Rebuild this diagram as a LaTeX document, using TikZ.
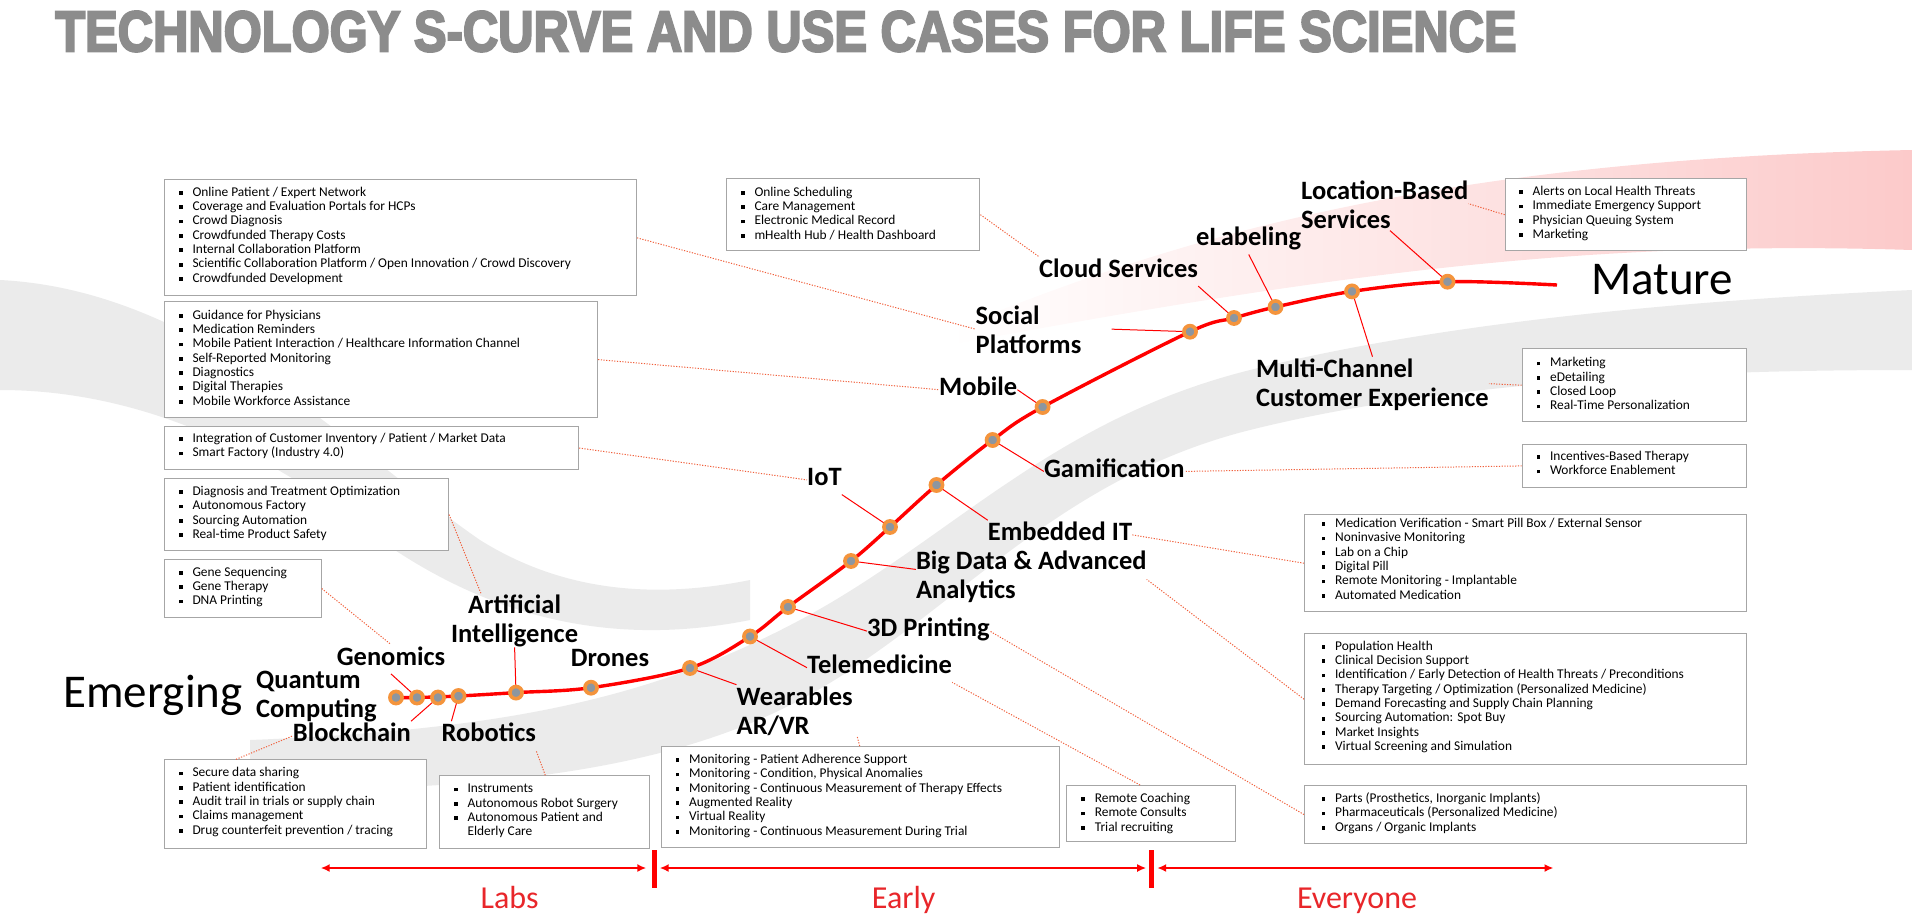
\documentclass[tikz,border=0pt]{standalone}
\usepackage{fontspec}
\setmainfont{Carlito}
\newfontfamily\titlefont{Liberation Sans}[BoldFeatures={FakeBold=4}]
\usetikzlibrary{arrows.meta,calc}
\definecolor{titlegray}{HTML}{8C8C8C}
\definecolor{boxgray}{HTML}{A6A6A6}
\definecolor{dotred}{HTML}{F0603C}
\definecolor{ptorange}{HTML}{F4943C}
\definecolor{ptcenter}{HTML}{8C96A0}
\definecolor{labred}{HTML}{E8262A}
\definecolor{bandgray}{HTML}{EBEBEB}
\definecolor{bandpink}{HTML}{FCCACA}
\newcommand{\bi}{\strut\makebox[13.6pt][l]{\rule[1.3pt]{3.8pt}{3.8pt}}}
\newcommand{\bskip}{\strut\hspace*{13.6pt}}
\begin{document}
\begin{tikzpicture}[x=1pt,y=-1pt,
  box/.style={draw=boxgray, line width=1.1pt, fill=white, inner sep=0, anchor=north west},
  list/.style={anchor=north west, inner sep=0, align=left, font=\fontsize{13.4}{14.35}\selectfont},
  lbl/.style={anchor=north west, inner sep=0, align=left, font=\bfseries\fontsize{26.5}{29}\selectfont},
  stage/.style={inner sep=0, anchor=north west, font=\fontsize{47}{50}\selectfont},
  pt/.style={circle, draw=ptorange, fill=ptcenter, line width=3.6pt, minimum size=12.2pt, inner sep=0},
  curve/.style={draw=red, line width=3.4pt},
  lead/.style={draw=red, line width=1pt},
  dotline/.style={draw=dotred, line width=1pt, dash pattern=on 1.2pt off 1.5pt},
  span/.style={draw=red, line width=2.4pt, {Latex[length=9pt,width=8pt]}-{Latex[length=9pt,width=8pt]}},
  phase/.style={text=labred, inner sep=0, anchor=base, font=\fontsize{32}{36}\selectfont}
]
\useasboundingbox (0,0) rectangle (1912,914);

% ---------- background swooshes ----------
\fill[bandgray] (0,280) .. controls (200,290) and (350,450) .. (480,540)
  .. controls (560,590) and (650,600) .. (750,580) -- (750,620)
  .. controls (600,650) and (480,610) .. (380,540)
  .. controls (280,460) and (150,390) .. (0,390) -- cycle;
\fill[bandgray] (250,740) .. controls (500,730) and (650,700) .. (800,620)
  .. controls (950,540) and (1050,420) .. (1250,370)
  .. controls (1450,320) and (1700,300) .. (1912,290) -- (1912,370)
  .. controls (1700,370) and (1450,380) .. (1250,430)
  .. controls (1050,480) and (950,620) .. (800,700)
  .. controls (650,780) and (450,790) .. (250,790) -- cycle;
\shade[left color=white, right color=bandpink] (950,330) .. controls (1150,250) and (1400,160) .. (1912,150)
  -- (1912,250) .. controls (1600,240) and (1350,270) .. (950,345) -- cycle;

% ---------- title ----------
\node[inner sep=0, anchor=north west, text=titlegray] (title) at (55,11)
  {\resizebox{1461pt}{40pt}{\titlefont\bfseries TECHNOLOGY S-CURVE AND USE CASES FOR LIFE SCIENCE}};

% ---------- points on the S-curve ----------
\coordinate (cstart) at (392,697.5);
\coordinate (cend) at (1557,285);
\coordinate (c1) at (396,697.5);
\coordinate (c2) at (417,697.5);
\coordinate (c3) at (438,697.5);
\coordinate (c4) at (458.5,696);
\coordinate (c5) at (516,692.6);
\coordinate (c6) at (591,687.7);
\coordinate (c7) at (690,668);
\coordinate (c8) at (750,636.5);
\coordinate (c9) at (788,607);
\coordinate (c10) at (851,561);
\coordinate (c11) at (890,527);
\coordinate (c12) at (936.5,485);
\coordinate (c13) at (992.6,440);
\coordinate (c14) at (1042.6,407);
\coordinate (c15) at (1190,331.7);
\coordinate (c16) at (1234,318);
\coordinate (c17) at (1275.5,307);
\coordinate (c18) at (1352,291.4);
\coordinate (c19) at (1447.5,281.7);

\draw[curve] plot[smooth, tension=0.55] coordinates {(cstart) (c2) (c4) (c5) (c6) (c7) (c8) (c9) (c10) (c11) (c12) (c13) (c14) (c15) (c16) (c17) (c18) (c19) (cend)};

% ---------- curve labels ----------
\node[stage] (emerging) at (63,675) {Emerging};
\node[stage] (mature) at (1591,264) {Mature};

\node[lbl] (lLoc) at (1301,178.7) {\strut Location-Based\\Services};
\node[lbl] (lEL) at (1196,225) {\strut eLabeling};
\node[lbl] (lCloud) at (1039,256.7) {\strut Cloud Services};
\node[lbl] (lSoc) at (975.5,304.2) {\strut Social\\Platforms};
\node[lbl] (lMob) at (939,375) {\strut Mobile};
\node[lbl] (lMC) at (1256,356.7) {\strut Multi-Channel\\Customer Experience};
\node[lbl] (lGam) at (1043.8,456.7) {\strut Gamification};
\node[lbl] (lIoT) at (807,465.2) {\strut IoT};
\node[lbl] (lEmb) at (987.7,520.2) {\strut Embedded IT};
\node[lbl] (lBD) at (915.8,549.4) {\strut Big Data \& Advanced\\Analytics};
\node[lbl] (lPrint) at (867,616.4) {\strut 3D Printing};
\node[lbl] (lTele) at (807,653) {\strut Telemedicine};
\node[lbl] (lWear) at (736.5,684.7) {\strut Wearables\\AR/VR};
\node[lbl] (lDrone) at (570.7,645.7) {\strut Drones};
\node[lbl, anchor=north, align=center] (lAI) at (514.6,593.2) {\strut Artificial\\Intelligence};
\node[lbl] (lGen) at (336.6,644.5) {\strut Genomics};
\node[lbl] (lQC) at (256,667.7) {\strut Quantum\\Computing};
\node[lbl] (lBlock) at (292.7,721.2) {\strut Blockchain};
\node[lbl] (lRob) at (441.4,721.2) {\strut Robotics};

% leaders from labels to their points
\draw[lead] ($(lLoc.south west)+(89,2)$) -- (c19);
\draw[lead] (lEL.south) -- (c17);
\draw[lead] (lCloud.south east) -- (c16);
\draw[lead] ($(lSoc.east)+(30,0)$) -- (c15);
\draw[lead] (lMC.north) -- (c18);
\draw[lead] (lMob.east) -- (c14);
\draw[lead] (lGam.west) -- (c13);
\draw[lead] (lIoT.south east) -- (c11);
\draw[lead] (lEmb.north west) -- (c12);
\draw[lead] ($(lBD.north west)+(0,20)$) -- (c10);
\draw[lead] (lPrint.west) -- (c9);
\draw[lead] (lTele.west) -- (c8);
\draw[lead] (lWear.north west) -- (c7);
\draw[lead] (lAI.south) -- (c5);
\draw[lead] (lGen.south) -- (c2);
\draw[lead] (lBlock.north east) -- (c3);
\draw[lead] ($(lRob.north west)+(10,0)$) -- (c4);

% ---------- use-case boxes ----------
\node[box, minimum width=472pt, minimum height=116pt] (bA) at (164,179.3) {};
\node[box, minimum width=433pt, minimum height=116pt] (bB) at (164,301) {};
\node[box, minimum width=414pt, minimum height=43.5pt] (bC) at (164,425.7) {};
\node[box, minimum width=284pt, minimum height=72pt] (bD) at (164,478) {};
\node[box, minimum width=156.7pt, minimum height=58pt] (bE) at (164,559) {};
\node[box, minimum width=261.7pt, minimum height=88.4pt] (bF) at (164,759.3) {};
\node[box, minimum width=209.4pt, minimum height=72.4pt] (bG) at (439.3,775.3) {};
\node[box, minimum width=398.6pt, minimum height=101.3pt] (bH) at (660.7,746) {};
\node[box, minimum width=168.7pt, minimum height=56pt] (bI) at (1066,785) {};
\node[box, minimum width=253.6pt, minimum height=71.7pt] (bJ) at (725.7,178.3) {};
\node[box, minimum width=241pt, minimum height=71.7pt] (bK) at (1504.7,178.3) {};
\node[box, minimum width=224pt, minimum height=72.7pt] (bL) at (1521.7,348.3) {};
\node[box, minimum width=224pt, minimum height=43.3pt] (bM) at (1521.7,443.7) {};
\node[box, minimum width=441.7pt, minimum height=96.7pt] (bN) at (1304,514.3) {};
\node[box, minimum width=441.7pt, minimum height=130.7pt] (bO) at (1304,633.3) {};
\node[box, minimum width=441.7pt, minimum height=58pt] (bP) at (1304,785) {};

\node[list] (tA) at (178.7,185.8) {\bi Online Patient / Expert Network\\\bi Coverage and Evaluation Portals for HCPs\\\bi Crowd Diagnosis\\\bi Crowdfunded Therapy Costs\\\bi Internal Collaboration Platform\\\bi Scientific Collaboration Platform / Open Innovation / Crowd Discovery\\\bi Crowdfunded Development};
\node[list] (tB) at (178.7,308.8) {\bi Guidance for Physicians\\\bi Medication Reminders\\\bi Mobile Patient Interaction / Healthcare Information Channel\\\bi Self-Reported Monitoring\\\bi Diagnostics\\\bi Digital Therapies\\\bi Mobile Workforce Assistance};
\node[list] (tC) at (178.7,432.1) {\bi Integration of Customer Inventory / Patient / Market Data\\\bi Smart Factory (Industry 4.0)};
\node[list] (tD) at (178.7,485.1) {\bi Diagnosis and Treatment Optimization\\\bi Autonomous Factory\\\bi Sourcing Automation\\\bi Real-time Product Safety};
\node[list] (tE) at (178.7,565.8) {\bi Gene Sequencing\\\bi Gene Therapy\\\bi DNA Printing};
\node[list] (tF) at (178.7,766.4) {\bi Secure data sharing\\\bi Patient identification\\\bi Audit trail in trials or supply chain\\\bi Claims management\\\bi Drug counterfeit prevention / tracing};
\node[list] (tG) at (453.7,782.4) {\bi Instruments\\\bi Autonomous Robot Surgery\\\bi Autonomous Patient and\\\bskip Elderly Care};
\node[list] (tH) at (675.3,753.1) {\bi Monitoring - Patient Adherence Support\\\bi Monitoring - Condition, Physical Anomalies\\\bi Monitoring - Continuous Measurement of Therapy Effects\\\bi Augmented Reality\\\bi Virtual Reality\\\bi Monitoring - Continuous Measurement During Trial};
\node[list] (tI) at (1081,792.1) {\bi Remote Coaching\\\bi Remote Consults\\\bi Trial recruiting};
\node[list] (tJ) at (740.7,185.8) {\bi Online Scheduling\\\bi Care Management\\\bi Electronic Medical Record\\\bi mHealth Hub / Health Dashboard};
\node[list] (tK) at (1518.8,185.1) {\bi Alerts on Local Health Threats\\\bi Immediate Emergency Support\\\bi Physician Queuing System\\\bi Marketing};
\node[list] (tL) at (1536.3,356.4) {\bi Marketing\\\bi eDetailing\\\bi Closed Loop\\\bi Real-Time Personalization};
\node[list] (tM) at (1536.3,450.1) {\bi Incentives-Based Therapy\\\bi Workforce Enablement};
\node[list] (tN) at (1321.3,517.1) {\bi Medication Verification - Smart Pill Box / External Sensor\\\bi Noninvasive Monitoring\\\bi Lab on a Chip\\\bi Digital Pill\\\bi Remote Monitoring - Implantable\\\bi Automated Medication};
\node[list] (tO) at (1321.3,639.8) {\bi Population Health\\\bi Clinical Decision Support\\\bi Identification / Early Detection of Health Threats / Preconditions\\\bi Therapy Targeting / Optimization (Personalized Medicine)\\\bi Demand Forecasting and Supply Chain Planning\\\bi Sourcing Automation: Spot Buy\\\bi Market Insights\\\bi Virtual Screening and Simulation};
\node[list] (tP) at (1321.3,792.1) {\bi Parts (Prosthetics, Inorganic Implants)\\\bi Pharmaceuticals (Personalized Medicine)\\\bi Organs / Organic Implants};

% ---------- dotted connectors from boxes to labels ----------
\draw[dotline] (bA.east) -- (lSoc.west);
\draw[dotline] (bB.east) -- (lMob.west);
\draw[dotline] (bC.east) -- (lIoT.west);
\draw[dotline] (bD.east) -- ($(lAI.north west)+(30,0)$);
\draw[dotline] (bE.east) -- (lGen.north);
\draw[dotline] ($(bF.north west)+(72,0)$) -- (lBlock.west);
\draw[dotline] ($(bG.north west)+(106,0)$) -- (lRob.south east);
\draw[dotline] ($(bH.north west)+(199,0)$) -- ($(lWear.south east)+(4,0)$);
\draw[dotline] ($(bI.north west)+(74,0)$) -- (lTele.south east);
\draw[dotline] (bJ.east) -- (lCloud.north west);
\draw[dotline] (bK.west) -- (lLoc.east);
\draw[dotline] (bL.west) -- (lMC.east);
\draw[dotline] (bM.west) -- (lGam.east);
\draw[dotline] (bN.west) -- (lEmb.east);
\draw[dotline] (bO.west) -- ($(lBD.north east)+(0,30)$);
\draw[dotline] (bP.west) -- (lPrint.east);

% ---------- points (drawn over the curve) ----------
\foreach \i in {1,...,19} {\node[pt] (p\i) at (c\i) {};}

% ---------- maturity phases ----------
\coordinate (labsL) at (320.7,868);
\coordinate (labsR) at (646.3,868);
\coordinate (earlyL) at (659.7,868);
\coordinate (earlyR) at (1146.2,868);
\coordinate (everyL) at (1157.2,868);
\coordinate (everyR) at (1553.5,868);
\coordinate (barAt) at (654.8,850);
\coordinate (barAb) at (654.8,888);
\coordinate (barBt) at (1151.1,850);
\coordinate (barBb) at (1151.1,888);
\draw[span] (labsL) -- (labsR);
\draw[span] (earlyL) -- (earlyR);
\draw[span] (everyL) -- (everyR);
\draw[red, line width=5pt] (barAt) -- (barAb);
\draw[red, line width=5pt] (barBt) -- (barBb);
\node[phase] (labs) at (509.7,908) {Labs};
\node[phase] (early) at (903.6,908) {Early};
\node[phase] (everyone) at (1357,908) {Everyone};
\end{tikzpicture}
\end{document}
